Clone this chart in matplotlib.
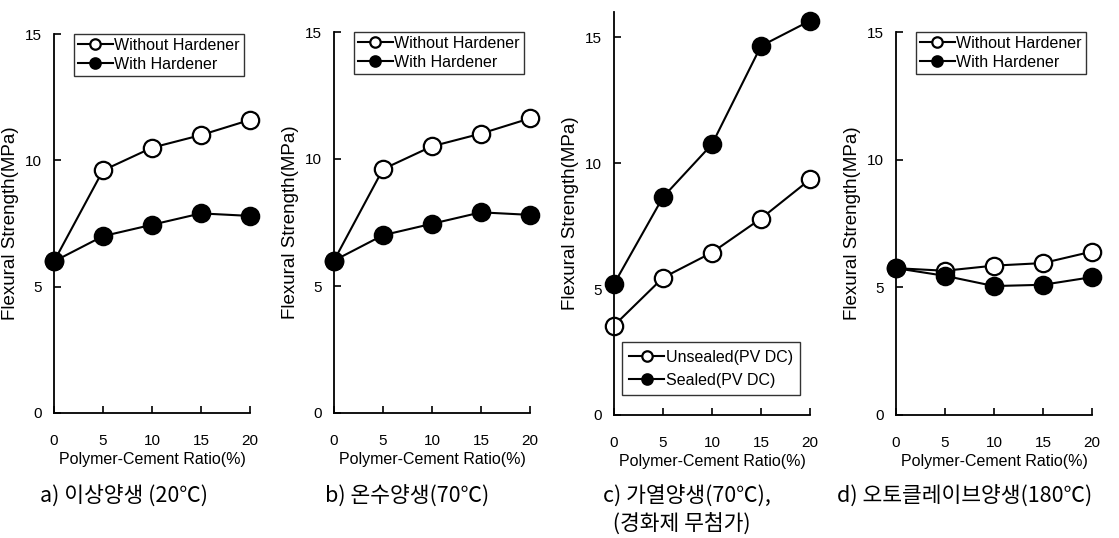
import matplotlib.pyplot as plt

plt.rcParams['font.family'] = ['Liberation Sans', 'DejaVu Sans']

ratio = [0, 5, 10, 15, 20]

# a) and b) : normal curing / hot water curing
a_without = [6.0, 9.6, 10.5, 11.0, 11.6]
a_with = [6.0, 7.0, 7.45, 7.9, 7.8]
b_without = [6.0, 9.6, 10.5, 11.0, 11.6]
b_with = [6.0, 7.0, 7.45, 7.9, 7.8]
# c) : heat curing, no hardener
c_unsealed = [3.55, 5.45, 6.45, 7.8, 9.35]
c_sealed = [5.2, 8.65, 10.75, 14.65, 15.65]
# d) : autoclave curing
d_without = [5.75, 5.65, 5.85, 5.95, 6.4]
d_with = [5.75, 5.45, 5.05, 5.1, 5.4]

captions = ['a) 이상양생 (20℃)', 'b) 온수양생(70℃)',
            'c) 가열양생(70℃),\n  (경화제 무첨가)', 'd) 오토클레이브양생(180℃)']

panels = [
    (a_without, a_with, 'Without Hardener', 'With Hardener', 15, 'upper right'),
    (b_without, b_with, 'Without Hardener', 'With Hardener', 15, 'upper right'),
    (c_unsealed, c_sealed, 'Unsealed(PV DC)', 'Sealed(PV DC)', 16, 'lower right'),
    (d_without, d_with, 'Without Hardener', 'With Hardener', 15, 'upper right'),
]

W, H = 1119, 538
lefts = [54, 334, 614, 896]
width = 196
bottoms = [413, 413, 415, 415]
tops = [34, 32, 12, 32]
cap_x = [40, 325, 603, 837]

fig = plt.figure(figsize=(W / 100, H / 100), dpi=100)

for i, (open_vals, fill_vals, lab1, lab2, ymax, loc) in enumerate(panels):
    ax = fig.add_axes([lefts[i] / W, 1 - bottoms[i] / H, width / W, (bottoms[i] - tops[i]) / H])
    ax.plot(ratio, open_vals, '-o', color='black', mfc='white', mec='black',
            ms=12.5, mew=1.6, lw=1.5, clip_on=False, label=lab1)
    ax.plot(ratio, fill_vals, '-o', color='black', mfc='black', mec='black',
            ms=12.5, mew=1.6, lw=1.5, clip_on=False, label=lab2)
    ax.set_xlim(0, 20)
    ax.set_ylim(0, ymax)
    ax.set_xticks(ratio)
    ax.set_yticks([0, 5, 10, 15])
    ax.spines['top'].set_visible(False)
    ax.spines['right'].set_visible(False)
    ax.spines['left'].set_linewidth(1.3)
    ax.spines['bottom'].set_linewidth(1.3)
    ax.tick_params(direction='in', length=5, width=1.2, labelsize=11)
    ax.tick_params(axis='x', pad=15)
    ax.tick_params(axis='y', pad=9)
    ax.set_xlabel('Polymer-Cement Ratio(%)', fontsize=11.5, labelpad=3)
    ax.set_ylabel('Flexural Strength(MPa)', fontsize=13.5, labelpad=4)

    if loc == 'upper right':
        leg = ax.legend(loc='upper left', bbox_to_anchor=(0.1, 1.0), fontsize=11.5,
                        frameon=True, fancybox=False, edgecolor='black',
                        markerscale=0.6, handlelength=2.2, handletextpad=0.1,
                        borderpad=0.25, labelspacing=0.25, borderaxespad=0.0)
    else:
        leg = ax.legend(loc='lower left', bbox_to_anchor=(0.04, 0.05), fontsize=11.5,
                        frameon=True, fancybox=False, edgecolor='black',
                        markerscale=0.6, handlelength=2.2, handletextpad=0.1,
                        borderpad=0.45, labelspacing=0.5, borderaxespad=0.0)
    leg.get_frame().set_linewidth(1.0)

    fig.text(cap_x[i] / W, 1 - 486 / H, captions[i], fontsize=15.5, va='top', ha='left',
             family=['Noto Sans CJK KR', 'DejaVu Sans'], linespacing=1.25)

fig.savefig('out.png', dpi=100, facecolor='white')
